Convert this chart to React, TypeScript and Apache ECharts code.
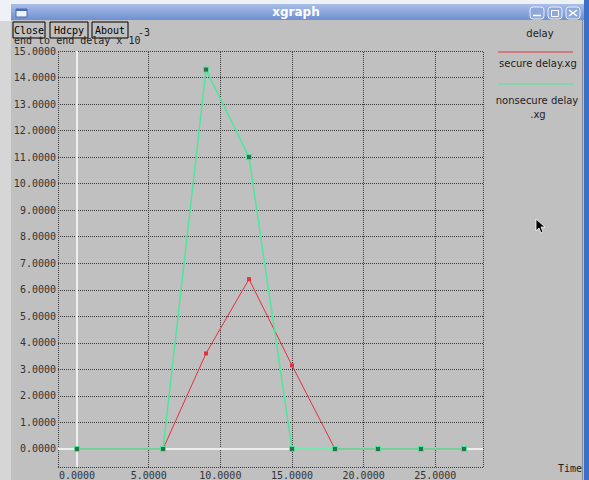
import React, { useEffect, useRef } from "react";
import * as echarts from "echarts";

// ---- data ----
const xValues = [0, 6, 9, 12, 15, 18, 21, 24, 27];
const secureDelay = [0, 0, 3.6, 6.4, 3.15, 0, 0, 0, 0];
const nonsecureDelay = [0, 0, 14.3, 11.0, 0, 0, 0, 0, 0];
const xTicks = [0, 5, 10, 15, 20, 25];
const yTicks = [0, 1, 2, 3, 4, 5, 6, 7, 8, 9, 10, 11, 12, 13, 14, 15];
const seriesNames = ["secure delay.xg", "nonsecure delay.xg"];

const X_MIN = -1.33;
const X_MAX = 28.33;
const Y_MIN = -0.68;
const Y_MAX = 15;

const RED = "#e0323c";
const GREEN = "#4ee69c";
const BG = "#c0c0c0";
const MONO = "DejaVu Sans Mono";
const SANS = "DejaVu Sans";

function buildOption() {
  const gridStyle = { color: "#3a3a3a", type: [1, 1] as any, width: 1 };
  const markData: any[] = [];
  xTicks.filter((v) => v !== 0).forEach((v) => markData.push({ xAxis: v }));
  yTicks.filter((v) => v !== 0).forEach((v) => markData.push({ yAxis: v }));
  markData.push({ xAxis: X_MIN }, { xAxis: X_MAX }, { yAxis: Y_MIN }, { yAxis: Y_MAX });
  const zeroStyle = { color: "#eeeeee", type: "solid", width: 2 };
  markData.push({ xAxis: 0, lineStyle: zeroStyle }, { yAxis: 0, lineStyle: zeroStyle });

  const button = (x: number, w: number, label: string) => ({
    type: "group",
    z: 5,
    children: [
      { type: "rect", shape: { x, y: 22, width: w, height: 16 }, style: { fill: BG, stroke: "#000", lineWidth: 1 } },
      { type: "text", style: { text: label, x: x + w / 2, y: 30, align: "center", verticalAlign: "middle", font: `10px "${MONO}"`, fill: "#000" } },
    ],
  });

  return {
    animation: false,
    backgroundColor: BG,
    grid: { left: 58, top: 51, right: 106, bottom: 13, containLabel: false },
    xAxis: {
      type: "value",
      min: X_MIN,
      max: X_MAX,
      axisLine: { show: false },
      axisTick: { show: false },
      splitLine: { show: false },
      axisLabel: {
        customValues: xTicks,
        formatter: (v: number) => v.toFixed(4),
        margin: 3,
        color: "#333",
        fontFamily: MONO,
        fontSize: 10,
      },
    },
    yAxis: {
      type: "value",
      min: Y_MIN,
      max: Y_MAX,
      axisLine: { show: false },
      axisTick: { show: false },
      splitLine: { show: false },
      axisLabel: {
        customValues: yTicks,
        formatter: (v: number) => v.toFixed(4),
        margin: 2,
        color: "#333",
        fontFamily: MONO,
        fontSize: 10,
      },
    },
    series: [
      {
        type: "line",
        name: "grid",
        z: 1,
        data: [[0, 0]],
        showSymbol: false,
        symbol: "none",
        lineStyle: { width: 0, opacity: 0 },
        silent: true,
        clip: false,
        markLine: {
          z: 1,
          silent: true,
          symbol: ["none", "none"],
          label: { show: false },
          lineStyle: gridStyle,
          data: markData,
        },
      },
      {
        type: "line",
        name: seriesNames[0],
        z: 3,
        data: xValues.map((x, i) => [x, secureDelay[i]]),
        symbol: "rect",
        symbolSize: 4,
        itemStyle: { color: RED },
        lineStyle: { color: RED, width: 1 },
      },
      {
        type: "line",
        name: seriesNames[1],
        z: 4,
        data: xValues.map((x, i) => [x, nonsecureDelay[i]]),
        symbol: "rect",
        symbolSize: 5,
        itemStyle: { color: "#2f6f45", borderColor: GREEN, borderWidth: 1 },
        lineStyle: { color: GREEN, width: 1.5 },
      },
    ],
    graphic: [
      // desktop strips
      { type: "rect", z: 0, shape: { x: 0, y: 0, width: 589, height: 5 }, style: { fill: "#eef1f6" } },
      { type: "rect", z: 0, shape: { x: 0, y: 0, width: 11, height: 480 }, style: { fill: "#d6d6d6" } },
      { type: "rect", z: 0, shape: { x: 0, y: 0, width: 11, height: 21 }, style: { fill: "#eef1f6" } },
      { type: "rect", z: 0, shape: { x: 584, y: 0, width: 5, height: 480 }, style: { fill: "#3b6fc8" } },
      { type: "line", z: 0, shape: { x1: 582.5, y1: 20, x2: 582.5, y2: 480 }, style: { stroke: "#8a8a8a", lineWidth: 1 } },
      // title bar
      {
        type: "rect",
        z: 1,
        shape: { x: 11, y: 4, width: 573, height: 16 },
        style: {
          fill: {
            type: "linear", x: 0, y: 0, x2: 0, y2: 1,
            colorStops: [
              { offset: 0, color: "#a9bfe8" },
              { offset: 1, color: "#6f8fd0" },
            ],
          },
        },
      },
      { type: "rect", z: 2, shape: { x: 16, y: 9, width: 11, height: 8 }, style: { fill: "#eef3fb", stroke: "#4a6cb0", lineWidth: 1 } },
      { type: "rect", z: 2, shape: { x: 16, y: 9, width: 11, height: 2 }, style: { fill: "#4a6cb0" } },
      { type: "text", z: 2, style: { text: "xgraph", x: 296, y: 12, align: "center", verticalAlign: "middle", font: `bold 12px "${SANS}"`, fill: "#ffffff" } },
      { type: "rect", z: 2, shape: { x: 530, y: 7, width: 14, height: 12, r: 3 }, style: { fill: "#8fa9dc", stroke: "#e8eefa", lineWidth: 1 } },
      { type: "line", z: 3, shape: { x1: 533, y1: 15.5, x2: 541, y2: 15.5 }, style: { stroke: "#ffffff", lineWidth: 1.5 } },
      { type: "rect", z: 2, shape: { x: 548, y: 7, width: 14, height: 12, r: 3 }, style: { fill: "#8fa9dc", stroke: "#e8eefa", lineWidth: 1 } },
      { type: "rect", z: 3, shape: { x: 551.5, y: 10.5, width: 7, height: 6 }, style: { fill: "none", stroke: "#ffffff", lineWidth: 1 } },
      { type: "rect", z: 2, shape: { x: 566, y: 7, width: 14, height: 12, r: 3 }, style: { fill: "#8fa9dc", stroke: "#e8eefa", lineWidth: 1 } },
      { type: "line", z: 3, shape: { x1: 569, y1: 10, x2: 577, y2: 16 }, style: { stroke: "#ffffff", lineWidth: 1.5 } },
      { type: "line", z: 3, shape: { x1: 577, y1: 10, x2: 569, y2: 16 }, style: { stroke: "#ffffff", lineWidth: 1.5 } },
      // y title
      { type: "text", z: 3, style: { text: "end to end delay x 10", x: 14, y: 45, align: "left", verticalAlign: "bottom", font: `10px "${MONO}"`, fill: "#222" } },
      { type: "text", z: 3, style: { text: "-3", x: 138, y: 37, align: "left", verticalAlign: "bottom", font: `10px "${MONO}"`, fill: "#222" } },
      // buttons
      button(13, 32, "Close"),
      button(50, 38, "Hdcpy"),
      button(92, 36, "About"),
      // legend
      { type: "text", z: 3, style: { text: "delay", x: 540, y: 33, align: "center", verticalAlign: "middle", font: `10px "${SANS}"`, fill: "#222" } },
      { type: "line", z: 3, shape: { x1: 498, y1: 52, x2: 573, y2: 52 }, style: { stroke: RED, lineWidth: 1 } },
      { type: "text", z: 3, style: { text: seriesNames[0], x: 538, y: 63, align: "center", verticalAlign: "middle", font: `10px "${SANS}"`, fill: "#222" } },
      { type: "line", z: 3, shape: { x1: 498, y1: 84, x2: 573, y2: 84 }, style: { stroke: GREEN, lineWidth: 1 } },
      { type: "text", z: 3, style: { text: "nonsecure delay", x: 537, y: 100, align: "center", verticalAlign: "middle", font: `10px "${SANS}"`, fill: "#222" } },
      { type: "text", z: 3, style: { text: ".xg", x: 538, y: 114, align: "center", verticalAlign: "middle", font: `10px "${SANS}"`, fill: "#222" } },
      // x title
      { type: "text", z: 3, style: { text: "Time", x: 582, y: 468, align: "right", verticalAlign: "middle", font: `10px "${MONO}"`, fill: "#222" } },
      // mouse cursor
      {
        type: "polygon",
        z: 100,
        shape: { points: [[536, 219], [536, 231], [539, 228], [541, 233], [543, 232], [541, 227], [545, 227]] },
        style: { fill: "#000", stroke: "#ffffff", lineWidth: 0.8 },
      },
    ],
  };
}

export default function App() {
  const ref = useRef<HTMLDivElement>(null);
  useEffect(() => {
    if (!ref.current) return;
    const chart = echarts.init(ref.current, null, { renderer: "svg" });
    chart.setOption(buildOption() as any);
    return () => chart.dispose();
  }, []);
  return <div ref={ref} style={{ position: "fixed", left: 0, top: 0, width: 589, height: 480 }} />;
}
